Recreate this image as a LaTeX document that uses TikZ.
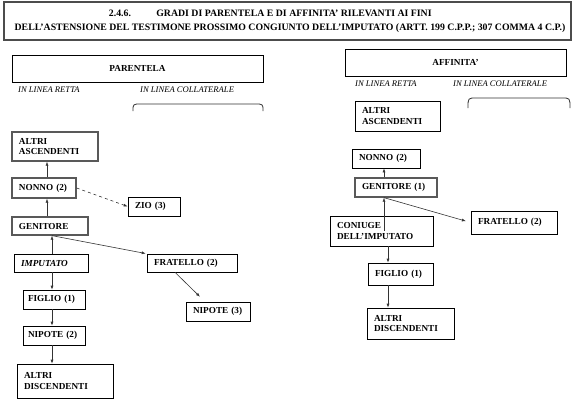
\documentclass[tikz,border=0pt]{standalone}
\usepackage{fontspec}
\setmainfont{Liberation Serif}
\usepackage{xcolor}
\usepackage{tikz}
\usetikzlibrary{arrows.meta}

\begin{document}
\begin{tikzpicture}[
  x=1pt, y=-1pt,
  font=\fontsize{9.2}{10.5}\selectfont\bfseries,
  box/.style={
    draw, line width=0.6pt, inner xsep=7pt, inner ysep=2pt,
    align=left
  },
  heavy/.style={box, line width=1.3pt, draw=black!65},
  head/.style={
    draw, line width=0.7pt, minimum height=27pt, align=center
  },
  lbl/.style={anchor=west, inner sep=0pt,
    font=\fontsize{8.6}{10}\selectfont\itshape},
  titletxt/.style={inner sep=0pt, font=\fontsize{9.8}{11}\selectfont\bfseries},
  arr/.style={-{Latex[length=4pt,width=3pt]}, line width=0.6pt, draw=black!80},
  brace/.style={line width=0.8pt, draw=black!80},
]
\useasboundingbox (0,0) rectangle (579,402);

%% Title
\node[draw, line width=1.2pt, draw=black!70, minimum width=567pt, minimum height=38pt]
    (titlebox) at (287.5,21) {};
\node[titletxt] (secnum) at (120,13) {2.4.6.};
\node[titletxt] (head1)  at (294,13) {GRADI DI PARENTELA E DI AFFINITA' RILEVANTI AI FINI};
\node[titletxt] (head2)  at (290,28) {DELL'ASTENSIONE DEL TESTIMONE PROSSIMO CONGIUNTO DELL'IMPUTATO (ARTT. 199 C.P.P.; 307 COMMA 4 C.P.)};

%% Section headers
\node[head, minimum width=251pt] (parentela) at (137.5,68.5) {PARENTELA};
\node[head, minimum width=221pt] (affinita)  at (455.5,62.5) {AFFINITA'};

\node[lbl] (pretta) at (18,90)  {IN LINEA RETTA};
\node[lbl] (pcoll)  at (140,90) {IN LINEA COLLATERALE};
\node[lbl] (aretta) at (355,84) {IN LINEA RETTA};
\node[lbl] (acoll)  at (453,84) {IN LINEA COLLATERALE};

%% Braces over the collateral columns
\draw[brace] (133,111) .. controls (133,104) .. (141,104) -- (255,104)
    .. controls (263,104) .. (263,111);
\draw[brace] (468,108) .. controls (468,98) .. (476,98) -- (562,98)
    .. controls (570,98) .. (570,108);

%% Parentela — linea retta
\node[heavy, text width=72pt, minimum height=29pt] (altriasc) at (55,146.5) {ALTRI\\ASCENDENTI};
\node[heavy, text width=50pt, minimum height=20pt] (nonno)    at (44,188)   {NONNO (2)};
\node[heavy, text width=62pt, minimum height=18pt] (genitore) at (50,226)   {GENITORE};
\node[box, text width=60pt, minimum height=18pt, font=\fontsize{9.2}{10.5}\selectfont\bfseries\itshape]
    (imputato) at (51,263) {IMPUTATO};
\node[box, text width=52pt, inner xsep=5pt, minimum height=19pt] (figlio)  at (54,299.5) {FIGLIO (1)};
\node[box, text width=52pt, inner xsep=5pt, minimum height=19pt] (nipote2) at (54,335.5) {NIPOTE (2)};
\node[box, text width=82pt, minimum height=34pt] (altridisc) at (65,381)   {ALTRI\\DISCENDENTI};

%% Parentela — linea collaterale
\node[box, text width=38pt, minimum height=19pt] (zio)      at (154,206.5) {ZIO (3)};
\node[box, text width=76pt, minimum height=18pt] (fratello) at (192,263)   {FRATELLO (2)};
\node[box, text width=50pt, minimum height=19pt] (nipote3)  at (218,311.5) {NIPOTE (3)};

%% Affinita'
\node[box, text width=71pt, minimum height=30pt] (aaltriasc)  at (397.5,116) {ALTRI\\ASCENDENTI};
\node[box, text width=54pt, minimum height=19pt] (anonno)     at (386,158.5) {NONNO (2)};
\node[heavy, text width=68pt, minimum height=19pt] (agenitore) at (396,187.5) {GENITORE (1)};
\node[box, text width=89pt, minimum height=30pt] (aconiuge)   at (381.5,231) {CONIUGE\\DELL'IMPUTATO};
\node[box, text width=72pt, minimum height=23pt] (afratello)  at (514,222.5) {FRATELLO (2)};
\node[box, text width=51pt, minimum height=22pt] (afiglio)    at (400.5,274) {FIGLIO (1)};
\node[box, text width=73pt, minimum height=31pt] (aaltridisc) at (410.5,323.5) {ALTRI\\DISCENDENTI};

%% Spines for the vertical arrows
\coordinate (pup)   at (47,0);
\coordinate (pdown) at (52,0);
\coordinate (aup)   at (384,0);
\coordinate (adown) at (388,0);

%% Arrows: Parentela
\draw[arr] (pup |- nonno.north)    -- (pup |- altriasc.south);
\draw[arr] (pup |- genitore.north) -- (pup |- nonno.south);
\draw[arr] (pdown |- imputato.north) -- (pdown |- genitore.south);
\draw[arr] (pdown |- imputato.south) -- (pdown |- figlio.north);
\draw[arr] (pdown |- figlio.south)   -- (pdown |- nipote2.north);
\draw[arr] (pdown |- nipote2.south)  -- (pdown |- altridisc.north);
\draw[arr, dashed] (nonno.east) -- (zio.west);
\draw[arr, shorten >=1pt] (pdown |- genitore.south) -- (fratello.north west);
\draw[arr, shorten >=7pt] ([xshift=-17pt]fratello.south) -- ([xshift=-13pt]nipote3.north);

%% Arrows: Affinita'
\draw[arr] (aup |- agenitore.north) -- (aup |- anonno.south);
\draw[arr] (aup |- aconiuge.center) -- (aup |- agenitore.south);
\draw[arr, shorten >=5pt] (aup |- agenitore.south) -- (afratello.west);
\draw[arr] (adown |- aconiuge.south) -- (adown |- afiglio.north);
\draw[arr] (adown |- afiglio.south)  -- (adown |- aaltridisc.north);
\end{tikzpicture}
\end{document}
